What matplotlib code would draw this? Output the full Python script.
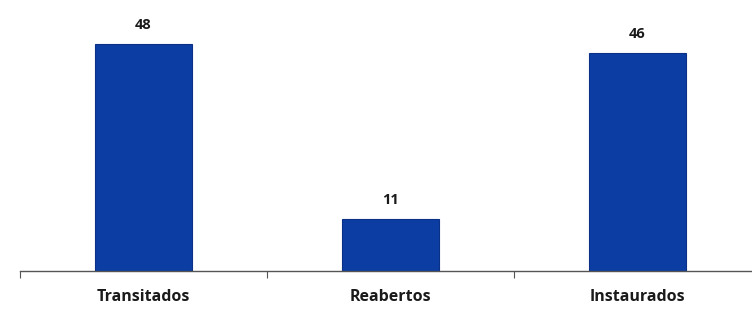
import matplotlib
matplotlib.use("Agg")
import matplotlib.pyplot as plt

categories = ["Transitados", "Reabertos", "Instaurados"]
values = [48, 11, 46]

plt.rcParams['font.family'] = ['Open Sans', 'DejaVu Sans']

fig = plt.figure(figsize=(7.52, 3.16), dpi=100)
ax = fig.add_axes([20/752, 45/316, 741/752, 271/316])

x = list(range(len(categories)))
ax.bar(x, values, width=0.39, color="#0B3DA3", edgecolor="#0A3185", linewidth=0.8)
for xi, v in zip(x, values):
    ax.text(xi, v + 2.6, str(v), ha="center", va="bottom", fontsize=10.5,
            fontweight="bold", color="#1a1a1a")

ax.set_xlim(-0.5, 2.5)
ax.set_ylim(0, 57.3)
for s in ["top", "right", "left"]:
    ax.spines[s].set_visible(False)
ax.spines["bottom"].set_color("#555555")
ax.spines["bottom"].set_linewidth(1.0)
ax.set_yticks([])
ax.set_xticks([-0.5, 0.5, 1.5, 2.5])
ax.set_xticklabels([])
ax.set_xticks(x, minor=True)
ax.set_xticklabels(categories, minor=True, fontsize=11.5, fontweight="bold", color="#1a1a1a")
ax.tick_params(axis="x", which="major", length=5, color="#555555", direction="out")
ax.tick_params(axis="x", which="minor", length=0, pad=13)

fig.savefig("out.png", dpi=100)
